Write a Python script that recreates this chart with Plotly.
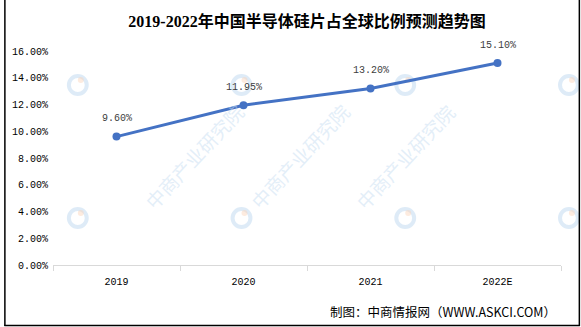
import plotly.graph_objects as go

years = ["2019", "2020", "2021", "2022E"]
share = [9.60, 11.95, 13.20, 15.10]
y_ticks = [0, 2, 4, 6, 8, 10, 12, 14, 16]
y_tick_labels = [f"{v:.2f}%" for v in y_ticks]
point_labels = [f"{v:.2f}%" for v in share]

W, H = 581, 327
ML, MR, MT, MB = 49, 20, 51, 62
pw, ph = W - ML - MR, H - MT - MB

def px_x(p):
    return (p - ML) / pw

def px_y(p):
    return (H - MB - p) / ph

mono = "Liberation Mono, DejaVu Sans Mono, monospace"
cjk = "Liberation Serif, Noto Sans CJK SC, serif"

fig = go.Figure()
fig.add_trace(go.Scatter(
    x=years, y=share, mode="lines+markers",
    line=dict(color="#4472C4", width=3),
    marker=dict(color="#4472C4", size=8),
    cliponaxis=False, showlegend=False,
))

annotations = []
shapes = []
# faint watermarks (logo ring + diagonal text)
for lx in [74, 239, 404, 569]:
    for ly in [85, 218]:
        r = 9
        shapes.append(dict(
            type="circle", xref="paper", yref="paper", layer="below",
            x0=px_x(lx - r), x1=px_x(lx + r), y0=px_y(ly + r), y1=px_y(ly - r),
            line=dict(color="rgba(200,222,242,0.6)", width=4)))
        shapes.append(dict(
            type="circle", xref="paper", yref="paper", layer="below",
            x0=px_x(lx), x1=px_x(lx + 6), y0=px_y(ly - 2), y1=px_y(ly - 8),
            fillcolor="rgba(250,210,185,0.45)", line=dict(width=0)))
for lx in [74, 239, 404]:
    annotations.append(dict(
        xref="paper", yref="paper", x=px_x(lx + 58), y=px_y(218 - 62),
        text="中商产业研究院", showarrow=False, textangle=-47,
        font=dict(family="Noto Sans CJK SC", size=19,
                  color="rgba(200,222,242,0.5)")))

for i, (yv, t) in enumerate(zip(share, point_labels)):
    annotations.append(dict(
        x=i, y=yv, text=t, showarrow=False, yshift=18,
        font=dict(family=mono, size=10, color="#404040")))

annotations.append(dict(
    xref="paper", yref="paper", x=px_x(558), y=px_y(311),
    xanchor="right", yanchor="middle", showarrow=False,
    text="制图：中商情报网（WWW.ASKCI.COM）",
    font=dict(family="Noto Sans CJK SC", size=12.5, color="#000000")))

shapes += [
    dict(type="line", xref="paper", yref="paper",
         x0=px_x(0.5), x1=px_x(0.5), y0=px_y(0), y1=px_y(326),
         line=dict(color="black", width=1.5)),
    dict(type="line", xref="paper", yref="paper",
         x0=px_x(579.5), x1=px_x(579.5), y0=px_y(0), y1=px_y(326),
         line=dict(color="black", width=1.5)),
    dict(type="line", xref="paper", yref="paper",
         x0=px_x(0), x1=px_x(580), y0=px_y(325.5), y1=px_y(325.5),
         line=dict(color="black", width=1.5)),
]

fig.update_layout(
    width=W, height=H,
    margin=dict(l=ML, r=MR, t=MT, b=MB),
    paper_bgcolor="white", plot_bgcolor="white",
    title=dict(text="<b>2019-2022年中国半导体硅片占全球比例预测趋势图</b>",
               x=0.5, xref="paper", xanchor="center",
               y=1 - 21 / H, yanchor="middle",
               font=dict(family=cjk, size=16, color="#000000")),
    xaxis=dict(type="category", showgrid=False, showline=True,
               linecolor="#d9d9d9", linewidth=1,
               ticks="outside", tickson="boundaries", ticklen=5,
               tickcolor="#d9d9d9", ticklabelstandoff=7,
               tickfont=dict(family=mono, size=10, color="#000000"),
               range=[-0.5, 3.5]),
    yaxis=dict(range=[0, 16], tickvals=y_ticks, ticktext=y_tick_labels,
               showgrid=False, zeroline=False, showline=False, ticks="",
               ticklabelstandoff=4,
               tickfont=dict(family=mono, size=10, color="#000000")),
    annotations=annotations,
    shapes=shapes,
)

fig.write_html("out.html")
